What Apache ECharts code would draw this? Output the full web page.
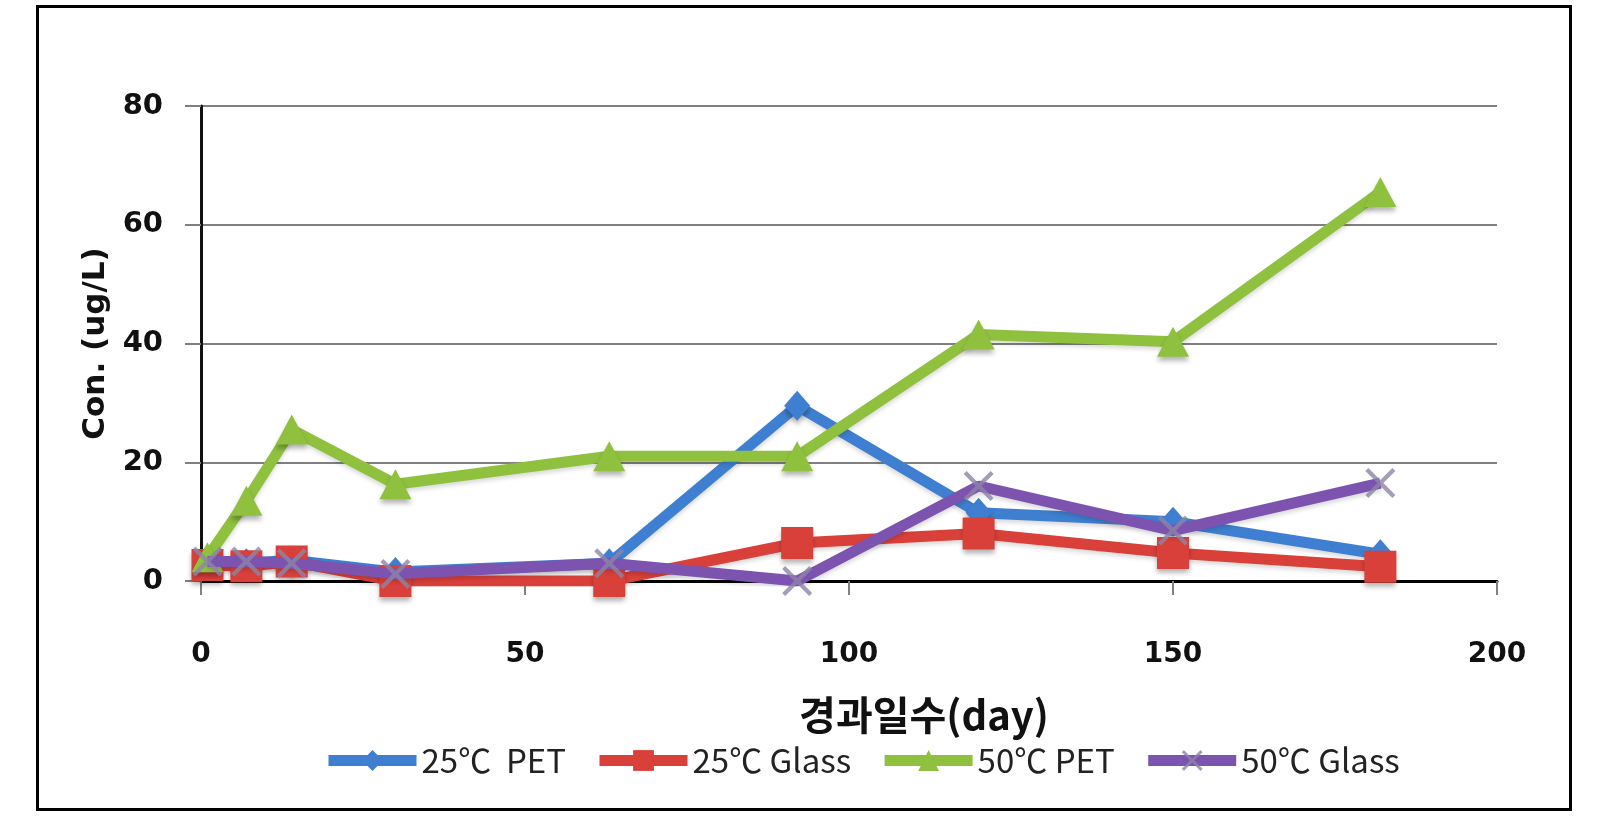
<!DOCTYPE html>
<html>
<head>
<meta charset="utf-8">
<script src="https://cdn.jsdelivr.net/npm/echarts@6/dist/echarts.min.js"></script>
<style>html,body{margin:0;padding:0;background:#fff;}#c{width:1599px;height:827px;}</style>
</head>
<body>
<div id="c"></div>
<script>
const days = [1, 7, 14, 30, 63, 92, 120, 150, 182];
const pet25 = [3.5, 3, 3.5, 1.5, 3, 29.5, 11.5, 10, 4.5];
const glass25 = [2.7, 2.5, 3.3, 0, 0, 6.4, 8, 4.7, 2.4];
const pet50 = [4, 13.5, 25.5, 16.3, 21, 21, 41.5, 40.3, 65.5];
const glass50 = [3.3, 3.3, 3, 1.2, 3, 0, 16, 8.5, 16.5];
const seriesNames = ['25\u2103  PET', '25\u2103 Glass', '50\u2103 PET', '50\u2103 Glass'];
const xTicks = [0, 50, 100, 150, 200];
const yTicks = [0, 20, 40, 60, 80];

const colors = ['#3f7fd1', '#d9403a', '#8fc13f', '#7d53b0'];
const xPath = 'path://M0,1L1,0L5,4L9,0L10,1L6,5L10,9L9,10L5,6L1,10L0,9L4,5Z';
const symbols = ['diamond', 'rect', 'triangle', xPath];
const symSizes = [[26, 30], 32, [32, 30], 30];
const datas = [pet25, glass25, pet50, glass50];

const chart = echarts.init(document.getElementById('c'));
const series = datas.map((d, i) => ({
  name: seriesNames[i],
  type: 'line',
  data: days.map((x, j) => [x, d[j]]),
  symbol: symbols[i],
  symbolSize: symSizes[i],
  showAllSymbol: true,
  lineStyle: { color: colors[i], width: 11, shadowColor: 'rgba(0,0,0,0.15)', shadowBlur: 4, shadowOffsetY: 3 },
  itemStyle: i === 3
    ? { color: '#8c84a8', opacity: 0.8 }
    : { color: colors[i], shadowColor: 'rgba(0,0,0,0.3)', shadowBlur: 5, shadowOffsetY: 4 },
  z: 2 + i,
  animation: false
}));

chart.setOption({
  animation: false,
  graphic: [{
    type: 'rect', left: 35, top: 4, shape: { width: 1533, height: 803 },
    style: { fill: 'none', stroke: '#000', lineWidth: 3 }, z: -1
  }],
  grid: { left: 201, right: 102, top: 106, bottom: 246 },
  legend: {
    bottom: 45, left: 318,
    itemWidth: 88, itemHeight: 26, itemGap: 28,
    lineStyle: { width: 11 },
    textStyle: { fontFamily: 'Noto Sans CJK KR', fontSize: 33, color: '#222' },
    data: seriesNames
  },
  xAxis: [{
    type: 'value', min: 0, max: 200, interval: 50,
    name: '\uACBD\uACFC\uC77C\uC218(day)', nameLocation: 'middle', nameGap: 114,
    nameTextStyle: { fontFamily: 'Noto Sans CJK KR', fontWeight: 'bold', fontSize: 40, color: '#111', padding: [0, 0, 0, 150] },
    axisLine: { onZero: false, lineStyle: { color: '#808080', width: 2 } },
    axisTick: { show: true, length: 14, lineStyle: { color: '#808080', width: 2 } },
    axisLabel: { fontFamily: 'DejaVu Sans', fontWeight: 'bold', fontSize: 28, color: '#111', margin: 60,
      formatter: v => xTicks.includes(v) ? String(v) : '' },
    splitLine: { show: false }
  }, {
    type: 'value', min: 0, max: 200, position: 'top',
    axisLine: { show: true, lineStyle: { color: '#000', width: 3 } },
    axisTick: { show: false }, axisLabel: { show: false }, splitLine: { show: false }
  }],
  yAxis: {
    type: 'value', min: 0, max: 80, interval: 20,
    name: 'Con. (ug/L)', nameLocation: 'middle', nameGap: 88, nameRotate: 90,
    nameTextStyle: { fontFamily: 'DejaVu Sans', fontWeight: 'bold', fontSize: 31, color: '#111' },
    axisLine: { show: true, lineStyle: { color: '#111', width: 3 } },
    axisTick: { show: true, length: 16, lineStyle: { color: '#808080', width: 2 } },
    axisLabel: { fontFamily: 'DejaVu Sans', fontWeight: 'bold', fontSize: 29, color: '#111', margin: 38,
      formatter: v => yTicks.includes(v) ? String(v) : '' },
    splitLine: { show: true, lineStyle: { color: '#808080', width: 2 } }
  },
  series: series
});
</script>
</body>
</html>
